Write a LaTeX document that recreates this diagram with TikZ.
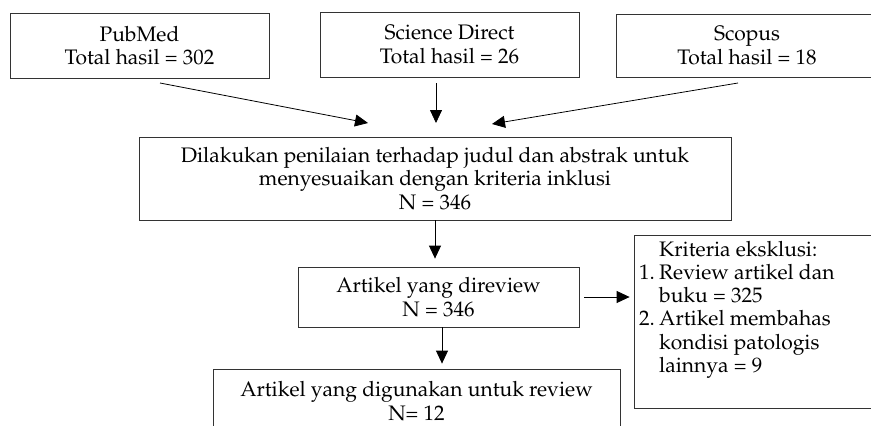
\documentclass[tikz,border=0pt]{standalone}
\usepackage[T1]{fontenc}
\usepackage{mathpazo}
\usetikzlibrary{arrows.meta}
\begin{document}
\begin{tikzpicture}[x=1pt,y=-1pt,
  box/.style={draw=black!80,line width=0.8pt,rectangle,inner sep=0pt,align=center,
    font=\fontsize{21}{23.5}\selectfont},
  arr/.style={draw=black,line width=0.8pt,-{Triangle[length=13pt,width=12pt]}},
  lbl/.style={inner sep=0pt,font=\fontsize{21}{23.3}\selectfont}]
\useasboundingbox (0,0) rectangle (871,426);
\clip (0,0) rectangle (871,426);
\node[box,minimum width=259pt,minimum height=65pt] (pub) at (139.5,45.5) {PubMed\\Total hasil = 302};
\node[box,minimum width=259pt,minimum height=65pt] (sd) at (449.5,44.5) {Science Direct\\Total hasil = 26};
\node[box,minimum width=262pt,minimum height=63pt] (sco) at (747,45.5) {Scopus\\Total hasil = 18};
\node[box,minimum width=592pt,minimum height=83pt] (mid) at (435,178.5) {Dilakukan penilaian terhadap judul dan abstrak untuk\\menyesuaikan dengan kriteria inklusi\\N = 346};
\node[box,minimum width=281pt,minimum height=60pt] (rev) at (438.5,297) {Artikel yang direview\\N = 346};
\node[box,minimum width=407pt,minimum height=64pt] (bot) at (416.5,401) {Artikel yang digunakan untuk review\\N= 12};
\node[box,minimum width=266pt,minimum height=173pt] (excl) at (767,321.5) {};
\node[lbl,anchor=base west] (excltext) at (639,256) {\begin{tabular}[t]{@{}p{20pt}@{}l@{}}
\multicolumn{2}{@{}l@{}}{\hspace*{20pt}Kriteria eksklusi:}\\
1. & Review artikel dan\\
 & buku = 325\\
2. & Artikel membahas\\
 & kondisi patologis\\
 & lainnya = 9
\end{tabular}};
\coordinate (p1) at (160,83);
\coordinate (p2) at (368,123);
\coordinate (s1) at (436,83);
\coordinate (s2) at (436,123);
\coordinate (c1) at (738,83);
\coordinate (c2) at (492,124);
\draw[arr] (p1) -- (p2);
\draw[arr] (s1) -- (s2);
\draw[arr] (c1) -- (c2);
\draw[arr,shorten >=8pt] (mid.south) -- (mid.south |- rev.north);
\draw[arr,shorten >=5pt] ([xshift=3.5pt]rev.south) -- ([xshift=3.5pt]rev.south |- bot.north);
\draw[arr,shorten <=5pt,shorten >=4pt] (rev.east) -- (rev.east -| excl.west);
\end{tikzpicture}
\end{document}
